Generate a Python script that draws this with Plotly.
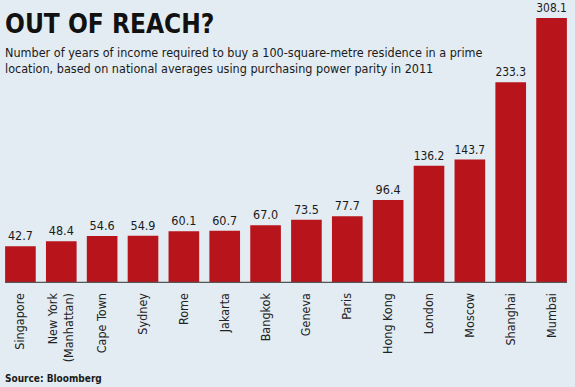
import plotly.graph_objects as go

cities = ["Singapore", "New York<br>(Manhattan)", "Cape Town", "Sydney", "Rome", "Jakarta",
          "Bangkok", "Geneva", "Paris", "Hong Kong", "London", "Moscow", "Shanghai", "Mumbai"]
years = [42.7, 48.4, 54.6, 54.9, 60.1, 60.7, 67.0, 73.5, 77.7, 96.4, 136.2, 143.7, 233.3, 308.1]
labels = [f"{v:.1f}" for v in years]

title = "OUT OF REACH?"
subtitle = ("Number of years of income required to buy a 100-square-metre residence in a prime<br>"
            "location, based on national averages using purchasing power parity in 2011")
source = "Source: Bloomberg"

BG = "#e3ecf2"
RED = "#b8141b"
COND = "DejaVu Sans Condensed, Liberation Sans Narrow, sans-serif"

fig = go.Figure(go.Bar(
    x=list(range(len(cities))), y=years, text=labels, textposition="outside",
    textfont=dict(family=COND, size=12.5, color="#1a1a1a"),
    marker=dict(color=RED, line=dict(width=0)), cliponaxis=False,
    hoverinfo="skip",
))

fig.update_layout(
    width=575, height=387,
    margin=dict(l=0, r=3, t=0, b=104, autoexpand=False),
    paper_bgcolor=BG, plot_bgcolor=BG,
    bargap=0.25, showlegend=False,
    xaxis=dict(range=[-0.5, 13.5], tickmode="array", tickvals=list(range(len(cities))),
               ticktext=cities, tickangle=-90, showgrid=False, zeroline=False, showline=False,
               automargin=False, ticks="outside", ticklen=4, tickcolor="rgba(0,0,0,0)",
               tickfont=dict(family="DejaVu Sans Condensed", size=12.5, color="#222222")),
    yaxis=dict(range=[0, 329], visible=False, automargin=False),
    shapes=[dict(type="line", xref="x", yref="y", x0=-0.375, x1=13.375, y0=0, y1=0,
                 line=dict(color="#555555", width=2.5))],
    annotations=[
        dict(text="<b>" + title + "</b>", xref="paper", yref="paper", x=0, y=1,
             xanchor="left", yanchor="top", xshift=3, yshift=-7, showarrow=False,
             font=dict(family=COND, size=26, color="#111111")),
        dict(text=subtitle, xref="paper", yref="paper", x=0, y=1, xanchor="left", yanchor="top",
             xshift=3, yshift=-43, showarrow=False, align="left",
             font=dict(family=COND, size=12.5, color="#1a1a1a")),
        dict(text="<b>" + source + "</b>", xref="paper", yref="paper", x=0, y=0,
             xanchor="left", yanchor="top", xshift=3, yshift=-88, showarrow=False,
             font=dict(family=COND, size=10, color="#1a1a1a")),
    ],
)

fig.write_html("out.html", config={"displayModeBar": False, "staticPlot": True},
               post_script="document.body.style.margin='0';document.body.style.background='%s';" % BG)
